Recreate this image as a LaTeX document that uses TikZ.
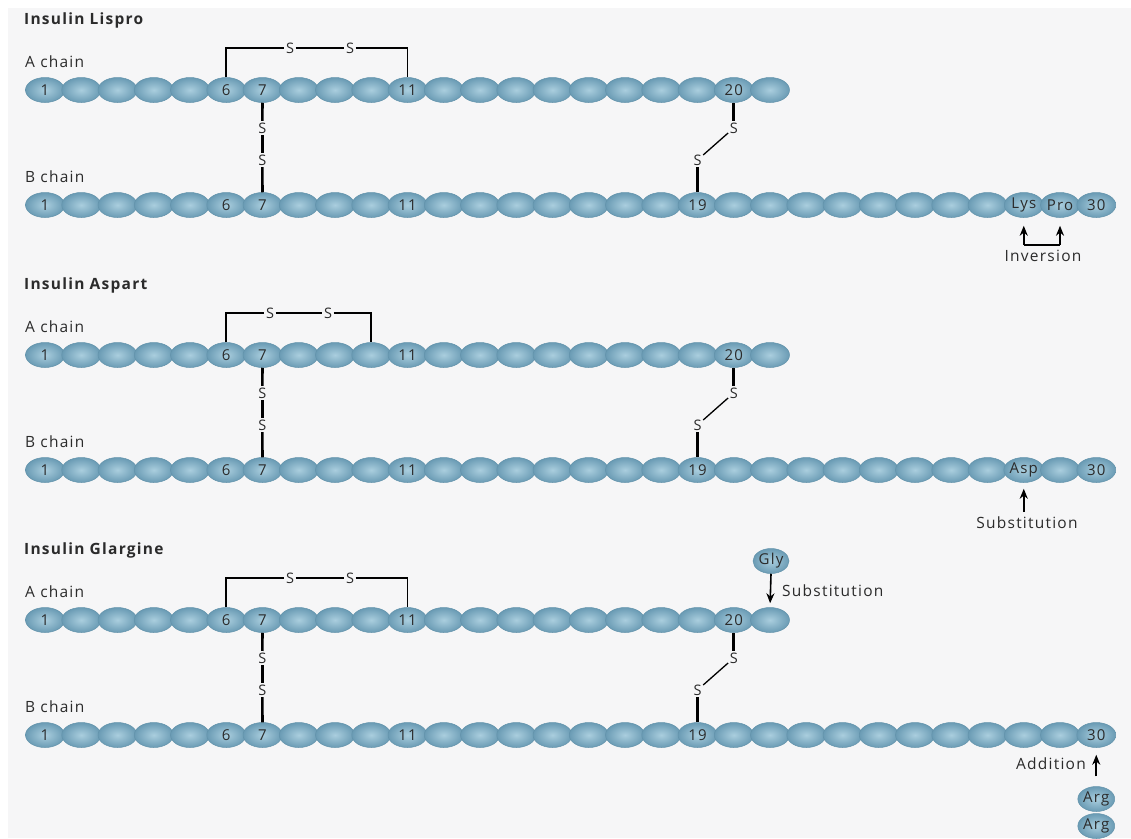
\documentclass[tikz,border=0pt]{standalone}
\usepackage{fontspec}
\setmainfont{Open Sans}[LetterSpace=8]
\usetikzlibrary{shapes.geometric,arrows.meta,calc}
\definecolor{bg}{HTML}{F6F6F7}
\definecolor{beadin}{HTML}{AACEDE}
\definecolor{beadout}{HTML}{6A9BB4}
\definecolor{beadedge}{HTML}{6393AB}
\definecolor{txt}{HTML}{2B2B2B}
\tikzset{
  bead/.style={ellipse, minimum width=39pt, minimum height=25pt, inner sep=0pt,
    draw=beadedge, line width=0.5pt, inner color=beadin, outer color=beadout,
    font=\fontsize{15}{15}\selectfont, text=txt},
  smallbead/.style={bead, minimum width=36pt},
  sulf/.style={font=\fontsize{14.5}{14.5}\selectfont, text=txt, inner sep=1.5pt},
  lbl/.style={font=\fontsize{15.5}{15.5}\selectfont, text=txt, inner sep=0pt},
  ttl/.style={font=\fontsize{15.5}{15.5}\selectfont\bfseries, text=txt, inner sep=0pt, anchor=west},
  brk/.style={line width=1.8pt, black},
  bondthick/.style={line width=2.6pt, black},
  bondthin/.style={line width=1.3pt, black},
  arr/.style={line width=1.6pt, black, -{Stealth[length=10pt,width=8pt]}},
  plainline/.style={line width=1.6pt, black},
}
\newcommand\labA[1]{\ifcase#1\or 1\or\or\or\or\or 6\or 7\or\or\or\or 11\or\or\or\or\or\or\or\or\or 20\or\fi}
\newcommand\labB[3]{\ifcase#1\or 1\or\or\or\or\or 6\or 7\or\or\or\or 11\or\or\or\or\or\or\or\or 19\or\or\or\or\or\or\or\or\or #2\or #3\or 30\fi}
% #1 prefix, #2 y0, #3 title, #4 bracket end bead, #5 S1 x, #6 S2 x, #7 bead28 text, #8 bead29 text
\newcommand\insulinpanel[8]{%
  \node[ttl] (#1T) at (24,#2-70) {#3};
  \node[lbl, anchor=west] (#1AC) at (25,#2-28) {A chain};
  \node[lbl, anchor=west] (#1BC) at (25,#2+87) {B chain};
  \foreach \i in {1,...,21} {\node[bead] (#1A\i) at ({45+36.25*(\i-1)},#2) {\labA{\i}};}
  \foreach \i in {1,...,30} {\node[bead] (#1B\i) at ({45+36.25*(\i-1)},#2+115) {\labB{\i}{#7}{#8}};}
  \node[sulf] (#1S1) at (#5,#2-42) {S};
  \node[sulf] (#1S2) at (#6,#2-42) {S};
  \draw[brk] (#1A6.north) |- (#1S1);
  \draw[brk] (#1S1) -- (#1S2);
  \draw[brk] (#1S2) -| (#1A#4.north);
  \node[sulf] (#1S3) at (262.25,#2+38) {S};
  \node[sulf] (#1S4) at (262.25,#2+70) {S};
  \draw[bondthick] (#1A7.south) -- (#1S3);
  \draw[bondthick] (#1S3) -- (#1S4);
  \draw[bondthick] (#1S4) -- (#1B7.north);
  \node[sulf] (#1S5) at (733.75,#2+38) {S};
  \node[sulf] (#1S6) at (697.5,#2+70) {S};
  \draw[bondthick] (#1A20.south) -- (#1S5);
  \draw[bondthin] (#1S5) -- (#1S6);
  \draw[bondthick] (#1S6) -- (#1B19.north);
}
\begin{document}
\begin{tikzpicture}[x=1pt,y=-1pt]
\useasboundingbox (0,0) rectangle (1131,838);
\fill[white] (0,0) rectangle (1131,838);
\fill[bg] (8,8) rectangle (1131,838);

% Insulin Lispro
\insulinpanel{L}{90}{Insulin Lispro}{11}{290}{350}{Lys}{Pro}
\coordinate (LinvL) at (1023.75,245);
\coordinate (LinvR) at (1060,245);
\draw[arr, shorten >=8pt] (LinvL) -- (LB28.south);
\draw[arr, shorten >=8pt] (LinvR) -- (LB29.south);
\draw[plainline] (LinvL) -- (LinvR);
\node[lbl] (Linv) at (1043,256) {Inversion};

% Insulin Aspart
\insulinpanel{P}{355}{Insulin Aspart}{10}{270}{328}{Asp}{}
\coordinate (Psub) at (1023.75,512);
\draw[arr, shorten >=6pt] (Psub) -- (PB28.south);
\node[lbl] (Psubl) at (1027,523) {Substitution};

% Insulin Glargine
\insulinpanel{G}{620}{Insulin Glargine}{11}{290}{350}{}{}
\node[smallbead] (GGly) at (771,561) {Gly};
\draw[arr, shorten <=0pt, shorten >=4pt] (GGly.south) -- (GA21.north);
\node[lbl, anchor=west] (Gsubl) at (782,591) {Substitution};
\node[smallbead] (GArg1) at (1096.25,799) {Arg};
\node[smallbead] (GArg2) at (1096.25,826) {Arg};
\draw[arr, shorten <=10pt, shorten >=7pt] (GArg1.north) -- (GB30.south);
\node[lbl, anchor=east] (Gadd) at (1086,764) {Addition};
\end{tikzpicture}
\end{document}
